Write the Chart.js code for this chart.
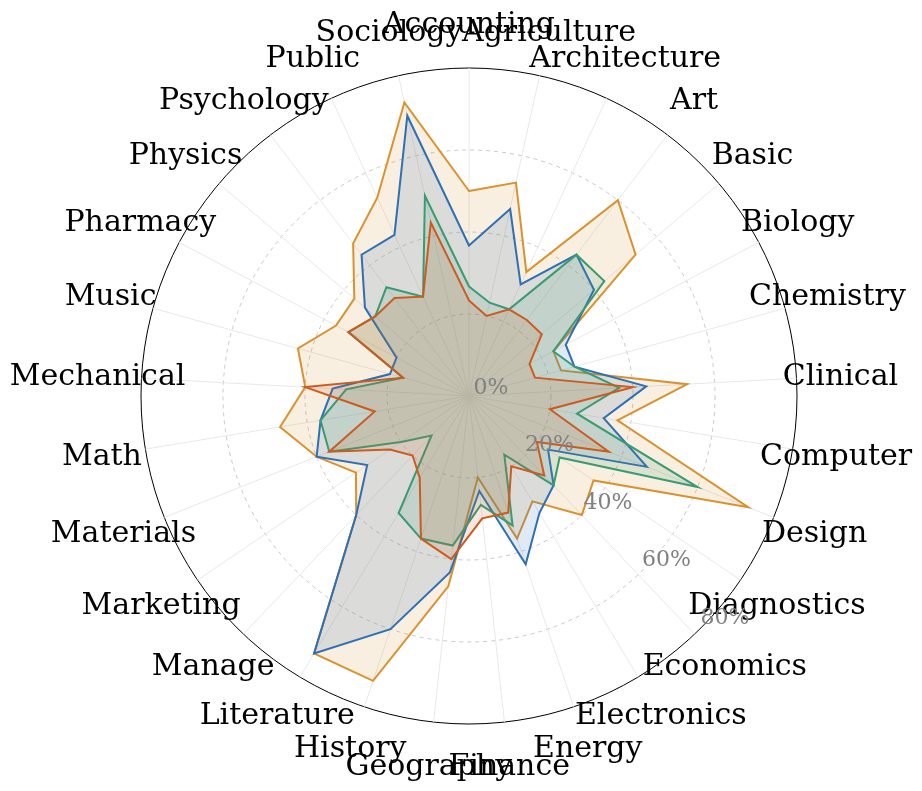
<!DOCTYPE html>
<html>
<head>
<meta charset="utf-8">
<script src="https://cdn.jsdelivr.net/npm/chart.js@4.4.1/dist/chart.umd.min.js"></script>
<style>
  html, body { margin: 0; padding: 0; background: #fff; overflow: hidden; }
  #wrap { width: 922px; height: 791px; }
</style>
</head>
<body>
<div id="wrap"><canvas id="chart" width="922" height="791"></canvas></div>
<script>
// categories, clockwise from the top
var categories = ['Accounting', 'Agriculture', 'Architecture', 'Art', 'Basic', 'Biology', 'Chemistry',
  'Clinical', 'Computer', 'Design', 'Diagnostics', 'Economics', 'Electronics', 'Energy', 'Finance',
  'Geography', 'History', 'Literature', 'Manage', 'Marketing', 'Materials', 'Math', 'Mechanical',
  'Music', 'Pharmacy', 'Physics', 'Psychology', 'Public', 'Sociology'];

// accuracy per subject, in percent
var blueValues = [36.7, 46.7, 30.0, 43.3, 40.0, 26.7, 26.7, 43.3, 33.3, 46.7, 23.3, 30.0, 33.3, 43.3, 23.3,
  43.3, 60.0, 73.3, 40.0, 30.0, 40.0, 36.7, 33.3, 20.0, 20.0, 33.3, 43.3, 43.3, 70.0];
var orangeValues = [50.0, 53.3, 33.3, 60.0, 53.3, 23.3, 23.3, 53.3, 36.7, 73.3, 36.7, 40.0, 30.0, 36.7, 20.0,
  46.7, 73.3, 73.3, 40.0, 33.3, 40.0, 46.7, 40.0, 43.3, 36.7, 36.7, 46.7, 53.3, 73.3];
var greenValues = [26.7, 23.3, 23.3, 43.3, 43.3, 23.3, 26.7, 36.7, 26.7, 60.0, 26.7, 30.0, 16.7, 33.3, 26.7,
  36.7, 36.7, 33.3, 13.3, 20.0, 36.7, 36.7, 30.0, 16.7, 33.3, 30.0, 33.3, 26.7, 50.0];
var redValues = [23.3, 20.0, 23.3, 23.3, 23.3, 16.7, 16.7, 40.0, 20.0, 36.7, 20.0, 26.7, 20.0, 30.0, 30.0,
  40.0, 36.7, 23.3, 20.0, 23.3, 36.7, 23.3, 40.0, 16.7, 33.3, 30.0, 30.0, 26.7, 43.3];

// radial ticks
var tickValues = [0, 20, 40, 60, 80];
var tickLabels = ['0%', '20%', '40%', '60%', '80%'];

var tickAngle = 134.5; // degrees clockwise from the top, where the radial labels sit

var overlay = {
  id: 'overlay',
  afterDraw: function(chart) {
    var s = chart.scales.r;
    var ctx = chart.ctx;
    ctx.save();
    ctx.textAlign = 'center';
    ctx.textBaseline = 'middle';
    // category labels, centred on each spoke
    ctx.font = '30px "DejaVu Serif"';
    ctx.fillStyle = '#000';
    categories.forEach(function(c, i) {
      var p = s.getPointPosition(i, s.drawingArea + 44);
      ctx.fillText(c, p.x, p.y + 1);
    });
    // radial tick labels
    ctx.font = '22px "DejaVu Serif"';
    ctx.fillStyle = '#808080';
    var a = tickAngle * Math.PI / 180;
    tickValues.forEach(function(v, j) {
      var d = s.getDistanceFromCenterForValue(v);
      ctx.fillText(tickLabels[j], s.xCenter + d * Math.sin(a) + 22, s.yCenter - d * Math.cos(a) - 8);
    });
    ctx.restore();
  }
};

function series(values, line, fill, order) {
  return {
    data: values,
    borderColor: line,
    backgroundColor: fill,
    borderWidth: 2,
    fill: true,
    pointRadius: 0,
    pointHoverRadius: 0,
    order: order
  };
}

new Chart(document.getElementById('chart'), {
  type: 'radar',
  data: {
    labels: categories,
    datasets: [
      series(blueValues, '#2f6fb3', 'rgba(47,111,179,0.15)', 3),
      series(orangeValues, '#d9922e', 'rgba(217,146,46,0.15)', 4),
      series(greenValues, '#3a9a72', 'rgba(58,154,114,0.15)', 2),
      series(redValues, '#cb5b1f', 'rgba(203,91,31,0.15)', 1)
    ]
  },
  options: {
    responsive: false,
    animation: false,
    layout: { padding: { left: 141, right: 125, top: 68, bottom: 67 } },
    plugins: { legend: { display: false }, tooltip: { enabled: false } },
    elements: { line: { tension: 0 } },
    scales: {
      r: {
        min: 0,
        max: 80,
        ticks: { stepSize: 20, display: false },
        pointLabels: { display: false },
        grid: {
          circular: true,
          color: function(c) { return c.tick && c.tick.value === 80 ? '#000000' : '#c8c8c8'; },
          lineWidth: 1
        },
        border: {
          dash: function(c) { return c.tick && c.tick.value === 80 ? [] : [4, 4]; }
        },
        angleLines: { color: '#e8e8e8', lineWidth: 1 }
      }
    }
  },
  plugins: [overlay]
});
</script>
</body>
</html>
